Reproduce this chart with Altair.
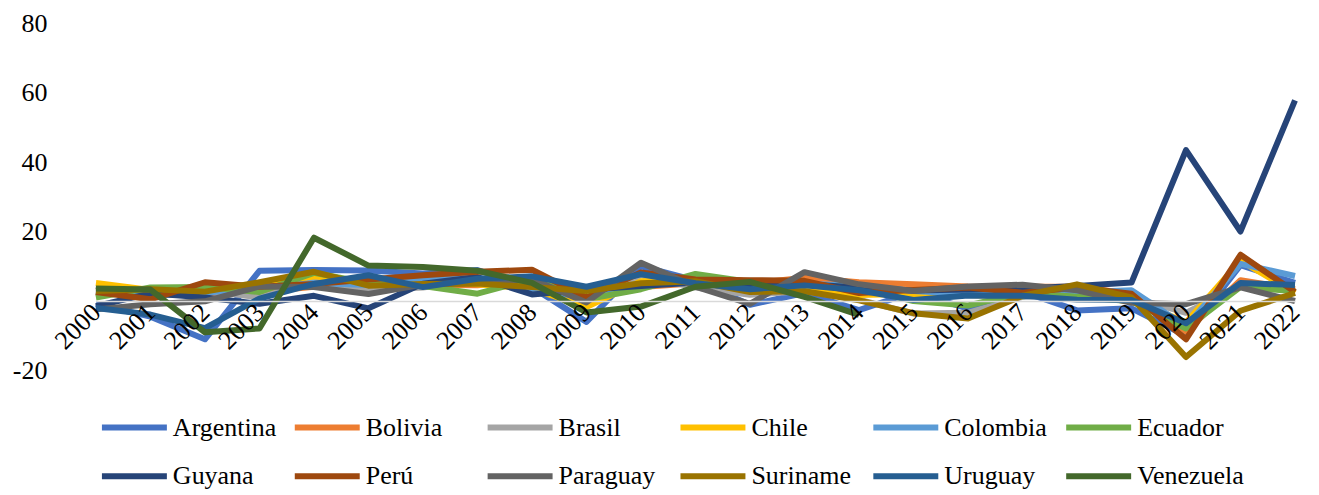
import altair as alt
import pandas as pd

years = [str(y) for y in range(2000, 2023)]

countries = ["Argentina", "Bolivia", "Brasil", "Chile", "Colombia", "Ecuador",
             "Guyana", "Perú", "Paraguay", "Suriname", "Uruguay", "Venezuela"]
colors = ["#4472C4", "#ED7D31", "#A5A5A5", "#FFC000", "#5B9BD5", "#70AD47",
          "#264478", "#9E480E", "#636363", "#997300", "#255E91", "#43682B"]

argentina = [-0.8, -4.4, -10.9, 8.8, 9.0, 8.9, 8.0, 9.0, 4.1, -5.9, 10.1, 6.0, -1.0, 2.4, -2.5, 2.7, -2.1, 2.8, -2.6, -2.0, -9.9, 10.4, 5.3]
bolivia = [2.5, 1.7, 2.5, 2.7, 4.2, 4.4, 4.8, 4.6, 6.1, 3.4, 4.1, 5.2, 5.1, 6.8, 5.5, 4.9, 4.3, 4.2, 4.2, 2.2, -8.7, 6.1, 3.5]
brasil = [4.4, 1.4, 3.1, 1.1, 5.8, 3.2, 4.0, 6.1, 5.1, -0.1, 7.5, 4.0, 1.9, 3.0, 0.5, -3.5, -3.3, 1.3, 1.8, 1.2, -3.3, 4.8, 3.0]
chile = [5.3, 3.3, 3.1, 4.1, 7.2, 5.7, 6.3, 4.9, 3.6, -1.6, 5.8, 6.1, 5.3, 4.0, 1.8, 2.2, 1.8, 1.4, 4.0, 0.7, -6.1, 11.7, 2.4]
colombia = [2.9, 1.7, 2.5, 3.9, 5.3, 4.7, 6.7, 6.7, 3.3, 1.2, 4.3, 7.4, 3.9, 5.1, 4.5, 3.0, 2.1, 1.4, 2.6, 3.2, -7.2, 10.8, 7.3]
ecuador = [1.1, 4.0, 4.1, 2.7, 8.2, 5.3, 4.4, 2.2, 6.4, 0.6, 3.5, 7.9, 5.6, 4.9, 3.8, 0.1, -1.2, 2.4, 1.3, 0.0, -7.8, 4.2, 2.9]
guyana = [-1.4, 2.3, 1.1, -0.7, 1.6, -2.0, 5.1, 7.0, 2.0, 3.3, 4.4, 5.4, 5.0, 5.0, 3.9, 3.1, 3.4, 3.7, 4.4, 5.4, 43.5, 20.1, 57.8]
peru = [2.7, 0.6, 5.5, 4.2, 5.0, 6.3, 7.5, 8.5, 9.1, 1.1, 8.3, 6.3, 6.1, 5.9, 2.4, 3.3, 4.0, 2.5, 4.0, 2.2, -10.9, 13.4, 2.7]
paraguay = [-2.3, -0.8, 0.0, 4.3, 4.1, 2.1, 4.8, 5.4, 6.4, -0.3, 11.1, 4.2, -0.7, 8.4, 4.9, 3.0, 4.3, 4.8, 3.2, -0.4, -0.8, 4.0, 0.1]
suriname = [3.0, 3.5, 2.8, 5.5, 8.5, 4.5, 5.0, 5.1, 4.1, 3.0, 5.2, 5.8, 2.7, 2.9, 0.3, -3.4, -4.9, 1.6, 4.9, 1.1, -16.0, -2.7, 2.4]
uruguay = [-1.9, -3.8, -7.7, 0.8, 5.0, 7.5, 4.1, 6.5, 7.2, 4.2, 7.8, 5.2, 3.5, 4.6, 3.2, 0.4, 1.7, 1.6, 0.5, 0.4, -6.3, 5.3, 4.7]
venezuela = [3.7, 3.4, -8.9, -7.8, 18.3, 10.3, 9.9, 8.8, 5.3, -3.2, -1.5, 4.2, 5.6, 1.3, -3.9, None, None, None, None, None, None, None, None]

series = [argentina, bolivia, brasil, chile, colombia, ecuador,
          guyana, peru, paraguay, suriname, uruguay, venezuela]

rows = []
for c, vals in zip(countries, series):
    for y, v in zip(years, vals):
        rows.append({"year": y, "country": c, "value": v})
df = pd.DataFrame(rows)

FONT = "Liberation Serif"

chart = alt.Chart(df).mark_line(strokeWidth=6, strokeJoin="round", strokeCap="butt").encode(
    x=alt.X("year:O",
            scale=alt.Scale(type="point", range=[24, 1224], padding=0),
            axis=alt.Axis(title=None, labelAngle=-45, labelAlign="right", labelBaseline="middle",
                          offset=-70, domainColor="#D9D9D9", domainWidth=1.5, ticks=False,
                          labelPadding=7, labelFontSize=26, labelFont=FONT, labelColor="black",
                          zindex=1)),
    y=alt.Y("value:Q",
            scale=alt.Scale(domain=[-20, 80], nice=False, zero=False),
            axis=alt.Axis(title=None, values=[-20, 0, 20, 40, 60, 80], grid=False, domain=False,
                          ticks=False, labelPadding=25, labelFontSize=26, labelFont=FONT,
                          labelColor="black", labelExpr="datum.value + ''")),
    color=alt.Color("country:N",
                    scale=alt.Scale(domain=countries, range=colors),
                    legend=alt.Legend(title=None, orient="none", legendX=27, legendY=369,
                                      direction="horizontal", columns=6, symbolType="stroke",
                                      symbolSize=4225, symbolStrokeWidth=6, labelFontSize=26,
                                      labelFont=FONT, labelColor="black", gridAlign="all",
                                      columnPadding=3, rowPadding=-10, labelOffset=3,
                                      labelLimit=0)),
).properties(
    width=1240,
    height=348,
    autosize="none",
    background="white",
    padding={"left": 64, "top": 15, "right": 0, "bottom": 124},
).configure_view(stroke=None)

chart.save("out.html", embed_options={"renderer": "svg", "actions": False})
